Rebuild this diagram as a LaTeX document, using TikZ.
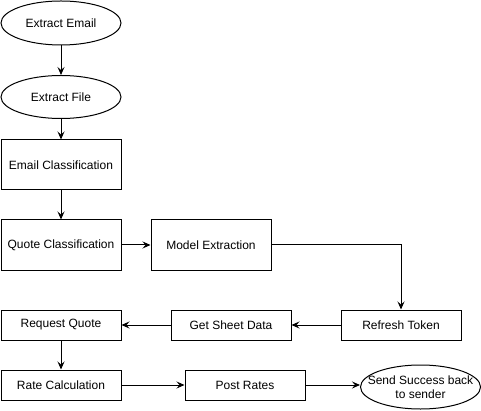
\documentclass[tikz,border=0pt]{standalone}
\usepackage{fontspec}
\setmainfont{Liberation Sans}
\usetikzlibrary{arrows.meta, shapes.geometric}
\tikzset{every node/.append style = {font=\fontsize{12}{14}\selectfont, draw, line width=1pt}}
\tikzset{stepbox/.style = {rectangle, minimum width=120pt, inner sep=0pt}}
\tikzset{oval/.style = {ellipse, minimum width=120pt, minimum height=44pt, inner sep=0pt}}
\tikzset{flow/.style = {line width=1pt, -{Stealth[length=8pt, width=7pt, inset=3pt]}}}

\begin{document}
\begin{tikzpicture}[x=1pt, y=-1pt]
\useasboundingbox (0,0) rectangle (481,411);
\node[oval] (email) at (61,23) {Extract Email};
\node[oval, minimum height=43pt] (file) at (61,97) {Extract File};
\node[stepbox, minimum height=50pt] (emailcls) at (61,165) {Email Classification};
\node[stepbox, minimum height=50pt] (quotecls) at (61,245) {Quote Classification};
\node[stepbox, minimum height=50pt] (model) at (211,245) {Model Extraction};
\node[stepbox, minimum height=30pt] (refresh) at (401,325) {Refresh Token};
\node[stepbox, minimum height=30pt] (sheet) at (231,325) {Get Sheet Data};
\node[stepbox, minimum height=30pt] (request) at (61,325) {Request Quote};
\node[stepbox, minimum height=30pt] (rate) at (61,385) {Rate Calculation};
\node[stepbox, minimum height=30pt] (post) at (245,385) {Post Rates};
\node[oval, inner xsep=-14pt, align=center] (send) at (420.5,387) {Send Success back\\to sender};
\draw[flow] (email) -- (file);
\draw[flow] (file) -- (emailcls);
\draw[flow] (emailcls) -- (quotecls);
\draw[flow] (quotecls) -- (model);
\draw[flow] (model.east) -| (refresh.north);
\draw[flow] (refresh) -- (sheet);
\draw[flow] (sheet) -- (request);
\draw[flow] (request) -- (rate);
\draw[flow] (rate) -- (post);
\draw[flow] (post.east) -- (post.east -| send.west);
\end{tikzpicture}
\end{document}
